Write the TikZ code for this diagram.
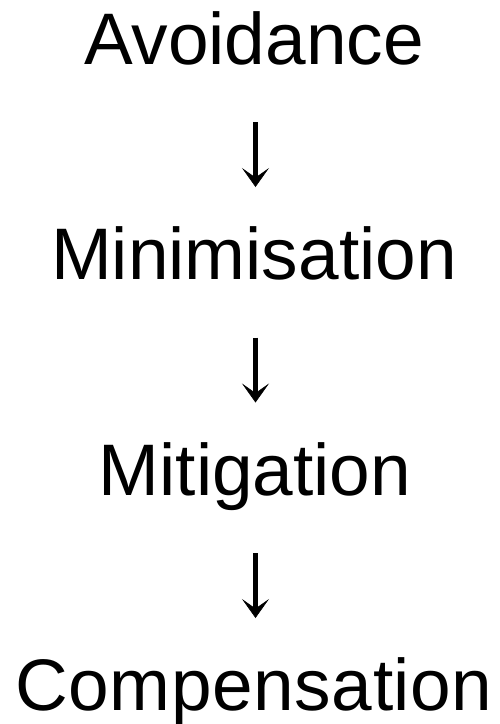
\documentclass[tikz,border=0pt]{standalone}
\usepackage{fontspec}
\setmainfont{Liberation Sans}
\usetikzlibrary{arrows.meta}
\begin{document}
\begin{tikzpicture}[x=1pt,y=-1pt,
  word/.style={anchor=base,inner sep=0pt,font=\fontsize{73}{80}\selectfont},
  flow/.style={line width=4.2pt,-{Stealth[length=19pt,width=27pt,inset=9.5pt,line width=0.6pt]}}]
\useasboundingbox (0,0) rectangle (500,724);
\node[word] (avoid) at (254,64) {Avoidance};
\node[word] (mini) at (254,279.5) {Minimisation};
\node[word] (miti) at (255,495) {Mitigation};
\node[word] (comp) at (254,710) {\addfontfeature{LetterSpace=0.8}Compensation};
\coordinate (a1s) at (255.5,122);
\coordinate (a1e) at (255.5,187);
\coordinate (a2s) at (255.5,337.5);
\coordinate (a2e) at (255.5,402.5);
\coordinate (a3s) at (255.5,553);
\coordinate (a3e) at (255.5,618);
\draw[flow] (a1s) -- (a1e);
\draw[flow] (a2s) -- (a2e);
\draw[flow] (a3s) -- (a3e);
\end{tikzpicture}
\end{document}
